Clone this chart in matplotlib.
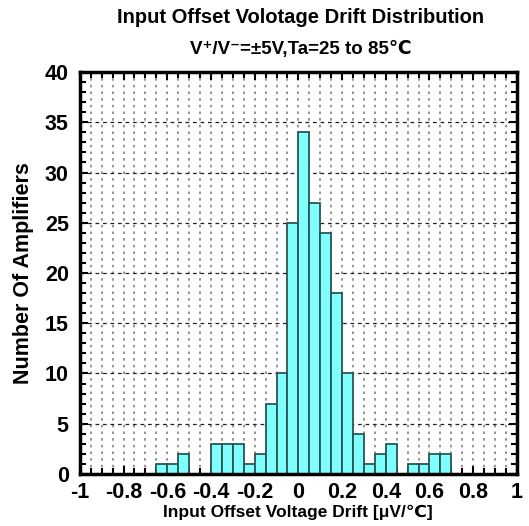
import numpy as np
import matplotlib.pyplot as plt
from matplotlib.ticker import MultipleLocator

plt.rcParams['font.family'] = ['Liberation Sans', 'DejaVu Sans']

# histogram bins (left edges) and counts
bin_left = [-0.65, -0.6, -0.55, -0.5, -0.45, -0.4, -0.35, -0.3, -0.25, -0.2, -0.15, -0.1, -0.05,
            0.0, 0.05, 0.1, 0.15, 0.2, 0.25, 0.3, 0.35, 0.4, 0.45, 0.5, 0.55, 0.6, 0.65]
counts = [1, 1, 2, 0, 0, 3, 3, 3, 1, 2, 7, 10, 25,
          34, 27, 24, 18, 10, 4, 1, 2, 3, 0, 1, 1, 2, 2]
bin_width = 0.05

x_ticks = [-1, -0.8, -0.6, -0.4, -0.2, 0, 0.2, 0.4, 0.6, 0.8, 1]
x_ticklabels = ['-1', '-0.8', '-0.6', '-0.4', '-0.2', '0', '0.2', '0.4', '0.6', '0.8', '1']
y_ticks = [0, 5, 10, 15, 20, 25, 30, 35, 40]

fig = plt.figure(figsize=(5.29, 5.26), dpi=100)
ax = fig.add_axes([0.151, 0.099, 0.826, 0.764])

# grid
for xv in np.arange(-0.95, 1.0, 0.05):
    ax.axvline(xv, color='#808080', ls=(0, (1.5, 2.5)), lw=1.2, zorder=0)
for yv in y_ticks[1:-1]:
    ax.axhline(yv, color='#202020', ls=(0, (3, 3)), lw=0.9, zorder=0)

bl = [b for b, c in zip(bin_left, counts) if c > 0]
bc = [c for c in counts if c > 0]
ax.bar(bl, bc, width=bin_width, align='edge', color='#80FFFF',
       edgecolor='#2A5555', linewidth=1.3, zorder=2)

ax.set_xlim(-1, 1)
ax.set_ylim(0, 40)
ax.set_xticks(x_ticks)
ax.set_xticklabels(x_ticklabels)
ax.set_yticks(y_ticks)
ax.xaxis.set_minor_locator(MultipleLocator(0.05))
ax.yaxis.set_minor_locator(MultipleLocator(1))
ax.tick_params(which='both', direction='in', top=True, right=True, width=1.5)
ax.tick_params(which='major', length=6, labelsize=15.5, pad=6)
ax.tick_params(which='minor', length=4)
ax.tick_params(axis='y', which='major', pad=8)
for lab in ax.get_xticklabels() + ax.get_yticklabels():
    lab.set_fontweight('bold')
for sp in ax.spines.values():
    sp.set_linewidth(2.5)

ax.set_xlabel('Input Offset Voltage Drift [μV/℃]', fontsize=12.5, fontweight='bold', labelpad=1)
ax.set_ylabel('Number Of Amplifiers', fontsize=15.5, fontweight='bold', labelpad=8)

fig.text(0.568, 0.966, 'Input Offset Volotage Drift Distribution', ha='center', va='center',
         fontsize=14.5, fontweight='bold')
fig.text(0.568, 0.906, 'V⁺/V⁻=±5V,Ta=25 to 85℃', ha='center', va='center',
         fontsize=13.5, fontweight='bold')

fig.savefig('out.png', dpi=100)
